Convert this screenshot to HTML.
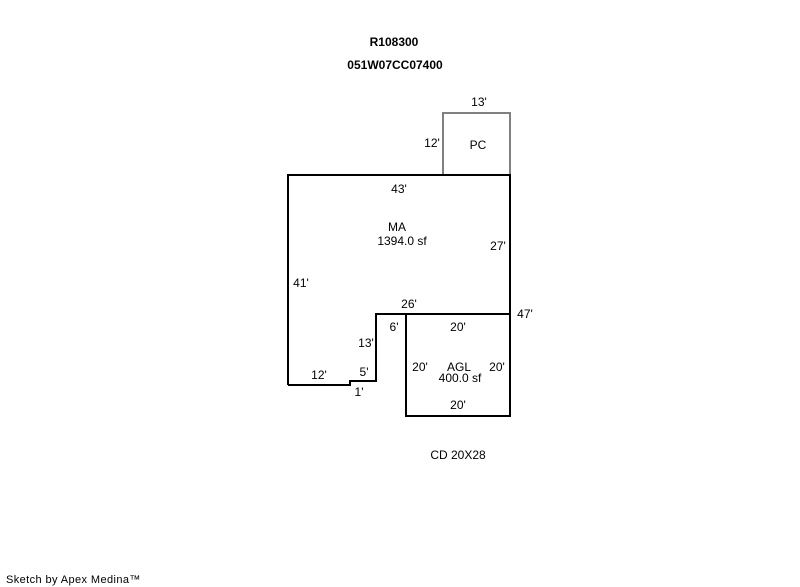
<!DOCTYPE html>
<html><head><meta charset="utf-8"><style>
html,body{margin:0;padding:0;background:#fff;}
svg{display:block;}
text{font-family:"Liberation Sans",Arial,sans-serif;font-size:12px;fill:#000;}
</style></head><body>
<svg width="800" height="587" viewBox="0 0 800 587" xmlns="http://www.w3.org/2000/svg">
<text x="394" y="46" text-anchor="middle" font-weight="bold">R108300</text>
<text x="395" y="69" text-anchor="middle" font-weight="bold">051W07CC07400</text>
<polyline points="443,175 443,113 510,113 510,175" fill="none" stroke="#808080" stroke-width="2"/>
<text x="479" y="106" text-anchor="middle">13'</text>
<text x="432" y="147" text-anchor="middle">12'</text>
<text x="478" y="149" text-anchor="middle">PC</text>
<polyline points="288,385 288,175 510,175 510,314 376,314 376,381 350,381 350,385 288,385" fill="none" stroke="#000" stroke-width="2"/>
<polyline points="510,314 510,416 406,416 406,314" fill="none" stroke="#000" stroke-width="2"/>
<text x="399" y="193" text-anchor="middle">43'</text>
<text x="397" y="231" text-anchor="middle">MA</text>
<text x="402" y="245" text-anchor="middle">1394.0 sf</text>
<text x="498" y="250" text-anchor="middle">27'</text>
<text x="301" y="287" text-anchor="middle">41'</text>
<text x="409" y="308" text-anchor="middle">26'</text>
<text x="525" y="318" text-anchor="middle">47'</text>
<text x="394" y="331" text-anchor="middle">6'</text>
<text x="458" y="331" text-anchor="middle">20'</text>
<text x="366" y="347" text-anchor="middle">13'</text>
<text x="420" y="371" text-anchor="middle">20'</text>
<text x="459" y="371" text-anchor="middle">AGL</text>
<text x="460" y="382" text-anchor="middle">400.0 sf</text>
<text x="497" y="371" text-anchor="middle">20'</text>
<text x="364" y="376" text-anchor="middle">5'</text>
<text x="319" y="379" text-anchor="middle">12'</text>
<text x="359" y="396" text-anchor="middle">1'</text>
<text x="458" y="459" text-anchor="middle">CD 20X28</text>
<text x="458" y="409" text-anchor="middle">20'</text>
<text x="6" y="583" style="font-size:11px;letter-spacing:0.4px">Sketch by Apex Medina™</text>
</svg>
</body></html>
